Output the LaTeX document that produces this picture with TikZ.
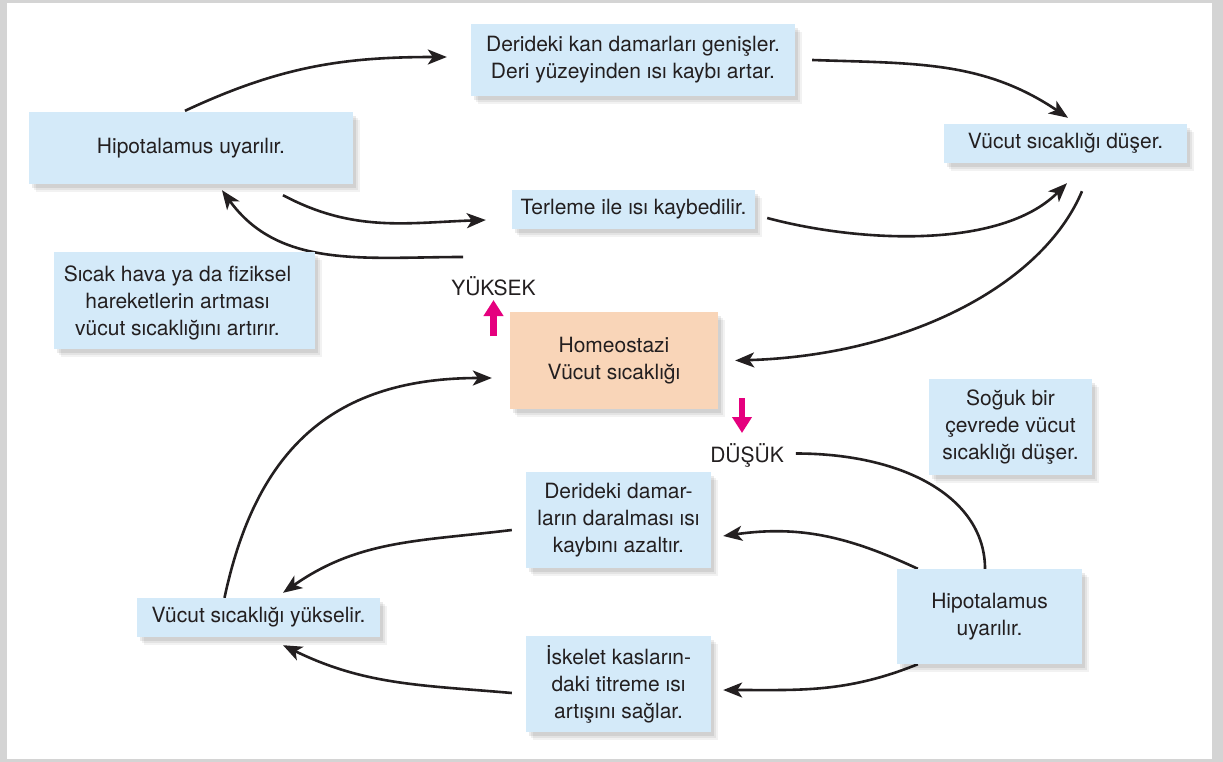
\documentclass[tikz,border=0pt]{standalone}
\usepackage{fontspec}
\setmainfont{TeX Gyre Heros}
\usetikzlibrary{arrows.meta,shadows}
\definecolor{boxblue}{HTML}{D4EAF9}
\definecolor{peach}{HTML}{F9D5B8}
\definecolor{ink}{HTML}{231F20}
\definecolor{hot}{HTML}{E5007E}
\definecolor{framegray}{HTML}{D4D4D4}
\pgfdeclarelayer{frame}
\pgfdeclarelayer{edges}
\pgfsetlayers{frame,edges,main}
\begin{document}
\begin{tikzpicture}[x=1pt,y=1pt,
  font=\fontsize{21}{27}\selectfont,
  softshadow/.style={
    general shadow={fill=black,opacity=0.05,shadow xshift=7pt,shadow yshift=-8pt},
    general shadow={fill=black,opacity=0.06,shadow xshift=5pt,shadow yshift=-6pt},
    general shadow={fill=black,opacity=0.08,shadow xshift=3pt,shadow yshift=-4pt}},
  box/.style={fill=boxblue,text=ink,align=center,inner sep=0pt,softshadow},
  lbl/.style={text=ink,inner sep=0pt},
  arr/.style={draw=ink,line width=2.6pt,-{Stealth[length=19pt,width=15pt,inset=5pt]}},
  plainline/.style={draw=ink,line width=2.6pt},
  hotarrow/.style={draw=hot,line width=6.5pt,-{Triangle[length=16pt,width=19pt]}}]

\useasboundingbox (0,0) rectangle (1223,-762);
\begin{pgfonlayer}{frame}
  \fill[framegray] (0,0) rectangle (1223,-762);
  \fill[white] (7,-3) rectangle (1212,-759);
\end{pgfonlayer}

% boxes
\node[box,minimum width=324pt,minimum height=72pt] (hypoA) at (191,-148) {Hipotalamus uyarılır.};
\node[box,minimum width=324pt,minimum height=72pt] (deriA) at (633,-60) {Derideki kan damarları genişler.\\Deri yüzeyinden ısı kaybı artar.};
\node[box,minimum width=243pt,minimum height=39pt] (terle) at (633.5,-209.5) {Terleme ile ısı kaybedilir.};
\node[box,minimum width=243pt,minimum height=39pt] (dusA) at (1065.5,-143.5) {Vücut sıcaklığı düşer.};
\node[box,minimum width=261pt,minimum height=97pt] (sicak) at (184.5,-300.5) {};
\node[lbl,align=center] (sicakText) at ([xshift=-7pt,yshift=-2pt]sicak.center) {Sıcak hava ya da fiziksel\\hareketlerin artması\\vücut sıcaklığını artırır.};
\node[box,fill=peach,minimum width=208pt,minimum height=97pt] (homeo) at (614,-360.5) {Homeostazi\\Vücut sıcaklığı};
\node[box,minimum width=163pt,minimum height=96pt] (soguk) at (1010.5,-427) {Soğuk bir\\çevrede vücut\\sıcaklığı düşer.};
\node[box,minimum width=185pt,minimum height=95pt] (hypoB) at (989.5,-616.5) {Hipotalamus\\uyarılır.};
\node[box,minimum width=185pt,minimum height=96pt] (damar) at (618.5,-520) {Derideki damar-\\ların daralması ısı\\kaybını azaltır.};
\node[box,minimum width=185pt,minimum height=96pt] (iskelet) at (618.5,-684) {İskelet kasların-\\daki titreme ısı\\artışını sağlar.};
\node[box,minimum width=243pt,minimum height=39pt] (yuksel) at (258.5,-617.5) {Vücut sıcaklığı yükselir.};

\node[lbl,anchor=base] (yuksek) at (493.5,-295) {YÜKSEK};
\node[lbl,anchor=base] (dusuk) at (747,-462) {DÜŞÜK};
\coordinate (hiA) at (463,-257);

% pink arrows
\draw[hotarrow] ([yshift=-41pt]yuksek.base) -- ([yshift=-5pt]yuksek.base);
\draw[hotarrow] ([xshift=-5pt,yshift=64pt]dusuk.base) -- ([xshift=-5pt,yshift=29pt]dusuk.base);

\begin{pgfonlayer}{edges}
  \draw[arr] ([xshift=-6pt,yshift=1pt]hypoA.north) to[out=25,in=180] ([xshift=-24pt,yshift=3pt]deriA.west);
  \draw[arr] ([xshift=17pt]deriA.east) to[out=-2,in=146] ([xshift=2.5pt,yshift=6pt]dusA.north);
  \draw[arr] ([xshift=92pt,yshift=-11pt]hypoA.south) to[out=-28,in=182] ([xshift=-26pt,yshift=-10.5pt]terle.west);
  \draw[arr] ([xshift=12pt,yshift=-8.5pt]terle.east) to[out=-15,in=225,looseness=0.8] ([xshift=1.5pt,yshift=-20pt]dusA.south);
  \draw[arr] (hiA) to[out=180,in=-54] ([xshift=31pt,yshift=-6pt]hypoA.south);
  \draw[arr] ([xshift=16.5pt,yshift=-28pt]dusA.south) .. controls +(-40,-95) and +(170,5) .. ([xshift=17pt]homeo.east);
  \draw[arr] ([xshift=-34pt]yuksel.north) to[out=78,in=180,looseness=1.15] ([xshift=-18pt,yshift=-17.5pt]homeo.west);
  \draw[plainline] ([xshift=12pt,yshift=8.5pt]dusuk.base east) .. controls +(110,0) and +(0,70) .. ([xshift=-4.5pt]hypoB.north);
  \draw[arr] ([xshift=21pt]hypoB.north west) to[out=155,in=8] ([xshift=12pt,yshift=-16pt]damar.east);
  \draw[arr] ([xshift=21pt]hypoB.south west) to[out=202,in=0] ([xshift=12pt,yshift=-6pt]iskelet.east);
  \draw[arr] ([xshift=-14pt,yshift=-10pt]damar.west) to[out=187,in=35] ([xshift=24.5pt,yshift=5pt]yuksel.north);
  \draw[arr] ([xshift=-14pt,yshift=-9pt]iskelet.west) to[out=175,in=-26] ([xshift=24.5pt,yshift=-8pt]yuksel.south);
\end{pgfonlayer}
\end{tikzpicture}
\end{document}
